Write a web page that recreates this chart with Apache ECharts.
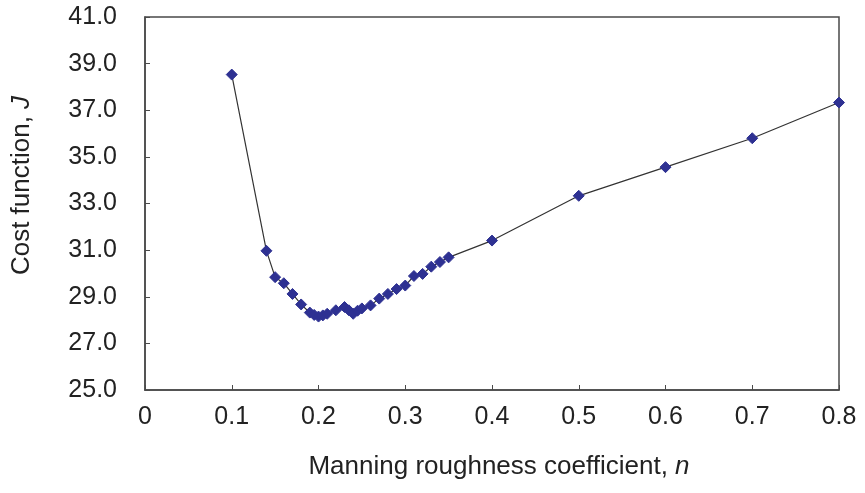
<!DOCTYPE html>
<html>
<head>
<meta charset="utf-8">
<script src="https://cdn.jsdelivr.net/npm/echarts@6/dist/echarts.min.js"></script>
<style>
  html, body { margin: 0; padding: 0; background: #fff; }
  #chart { width: 865px; height: 493px; }
</style>
</head>
<body>
<div id="chart"></div>
<script>
"use strict";

var nValues = [0.10, 0.14, 0.15, 0.16, 0.17, 0.18, 0.19, 0.195, 0.20, 0.205, 0.21, 0.22, 0.23, 0.235, 0.24, 0.245, 0.25, 0.26, 0.27, 0.28, 0.29, 0.30, 0.31, 0.32, 0.33, 0.34, 0.35, 0.40, 0.50, 0.60, 0.70, 0.80];
var costValues = [38.53, 30.97, 29.84, 29.58, 29.12, 28.67, 28.32, 28.22, 28.15, 28.2, 28.27, 28.42, 28.56, 28.42, 28.27, 28.4, 28.5, 28.63, 28.92, 29.12, 29.33, 29.48, 29.89, 29.98, 30.29, 30.49, 30.69, 31.41, 33.33, 34.56, 35.8, 37.33];

var chart = echarts.init(document.getElementById("chart"));

var pts = [];
for (var i = 0; i < nValues.length; i++) {
    pts.push([nValues[i], costValues[i]]);
}

var axisCol = "#4a4a4a";
var textCol = "#222";
var font = "Liberation Sans";

chart.setOption({
    animation: false,
    grid: {
        left: 145, right: 26, top: 17, bottom: 103,
        show: true, borderColor: axisCol, borderWidth: 1.5
    },
    xAxis: {
        type: "value", min: 0, max: 0.8, interval: 0.1,
        name: "Manning roughness coefficient, {i|n}",
        nameLocation: "middle", nameGap: 64,
        nameTextStyle: {
            color: textCol, fontFamily: font, fontSize: 26, padding: [0, 0, 0, 14],
            rich: { i: { fontStyle: "italic", fontFamily: font, fontSize: 26, color: textCol } }
        },
        axisLine: { lineStyle: { color: axisCol, width: 1.5 } },
        axisTick: { inside: true, length: 5, lineStyle: { color: axisCol } },
        splitLine: { show: false },
        axisLabel: {
            color: textCol, fontFamily: font, fontSize: 25, margin: 15,
            formatter: function(v) { return v === 0 ? "0" : v.toFixed(1); }
        }
    },
    yAxis: {
        type: "value", min: 25, max: 41, interval: 2,
        name: "Cost function, {i|J}",
        nameLocation: "middle", nameGap: 110,
        nameTextStyle: {
            color: textCol, fontFamily: font, fontSize: 26, padding: [0, 0, 0, 36],
            rich: { i: { fontStyle: "italic", fontFamily: font, fontSize: 26, color: textCol } }
        },
        axisLine: { lineStyle: { color: axisCol, width: 1.5 } },
        axisTick: { inside: true, length: 5, lineStyle: { color: axisCol } },
        splitLine: { show: false },
        axisLabel: {
            color: textCol, fontFamily: font, fontSize: 25, margin: 28,
            formatter: function(v) { return v.toFixed(1); }
        }
    },
    series: [{
        type: "line",
        data: pts,
        symbol: "diamond",
        symbolSize: 11,
        itemStyle: { color: "#2e3192", borderColor: "#2e3192" },
        lineStyle: { color: "#333", width: 1.2 }
    }]
});
</script>
</body>
</html>
